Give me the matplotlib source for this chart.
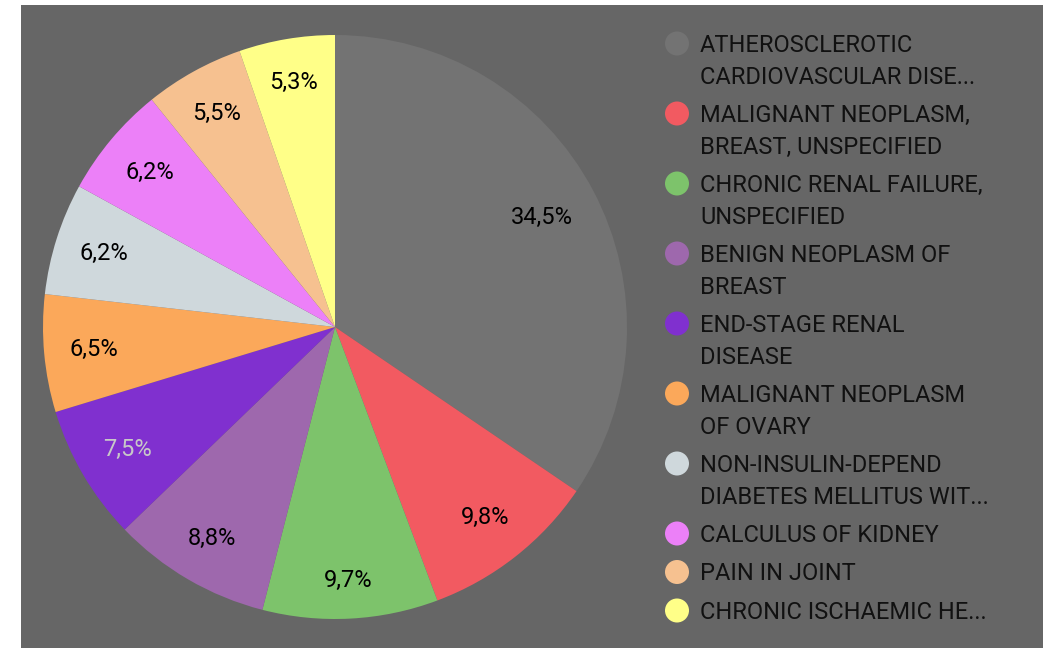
import matplotlib
matplotlib.use('Agg')
import numpy as np
import matplotlib.pyplot as plt
from matplotlib.patches import Rectangle, Circle

plt.rcParams['font.family'] = ['Roboto', 'DejaVu Sans']

# diagnoses and their shares, %
labels = ['ATHEROSCLEROTIC\nCARDIOVASCULAR DISE...',
          'MALIGNANT NEOPLASM,\nBREAST, UNSPECIFIED',
          'CHRONIC RENAL FAILURE,\nUNSPECIFIED',
          'BENIGN NEOPLASM OF\nBREAST',
          'END-STAGE RENAL\nDISEASE',
          'MALIGNANT NEOPLASM\nOF OVARY',
          'NON-INSULIN-DEPEND\nDIABETES MELLITUS WIT...',
          'CALCULUS OF KIDNEY',
          'PAIN IN JOINT',
          'CHRONIC ISCHAEMIC HE...']
shares = [34.5, 9.8, 9.7, 8.8, 7.5, 6.5, 6.2, 6.2, 5.5, 5.3]
colors = ['#737373', '#f25a61', '#7dc36b', '#9e68ad', '#8030cf',
          '#fba85a', '#cfd8dc', '#ec80f8', '#f6c190', '#ffff88']
# how far out each percent label sits (fraction of radius)
label_dist = [0.80, 0.83, 0.87, 0.84, 0.825, 0.83, 0.83, 0.825, 0.835, 0.85]

W, H = 1043, 648
fig = plt.figure(figsize=(W / 100, H / 100), dpi=100, facecolor='white')

# full-figure overlay in pixel coords (for panel and legend)
bg = fig.add_axes([0, 0, 1, 1], zorder=-1)
bg.set_xlim(0, W)
bg.set_ylim(H, 0)
bg.axis('off')
bg.add_patch(Rectangle((21, 5), W - 21, H - 5, facecolor='#666666',
                       edgecolor='none'))

cx, cy, r = 335, 327, 292
ax = fig.add_axes([(cx - r) / W, (H - cy - r) / H, 2 * r / W, 2 * r / H])
wedges, texts, autotexts = ax.pie(
    shares, colors=colors, startangle=90, counterclock=False, radius=1,
    autopct=lambda p: f'{p:.1f}%'.replace('.', ','), pctdistance=0.8,
    wedgeprops=dict(linewidth=0), textprops=dict(fontsize=17, color='black'))
for w, t, d in zip(wedges, autotexts, label_dist):
    ang = np.deg2rad((w.theta1 + w.theta2) / 2)
    t.set_position((d * np.cos(ang), d * np.sin(ang)))
autotexts[4].set_color('#c8c8c8')
ax.set_xlim(-1, 1)
ax.set_ylim(-1, 1)
ax.axis('off')

# legend drawn by hand, marker next to the first line
lx, tx = 677, 700
y = 43.5
line_h = 32
for lab, col in zip(labels, colors):
    bg.add_patch(Circle((lx, y), 12, facecolor=col, edgecolor='none'))
    lines = lab.split('\n')
    for i, ln in enumerate(lines):
        bg.text(tx, y + 2 + i * line_h, ln, fontsize=17, color='#111111',
                va='center', ha='left')
    y += 70 if len(lines) > 1 else 38.5

fig.savefig('out.png', dpi=100, facecolor=fig.get_facecolor())
